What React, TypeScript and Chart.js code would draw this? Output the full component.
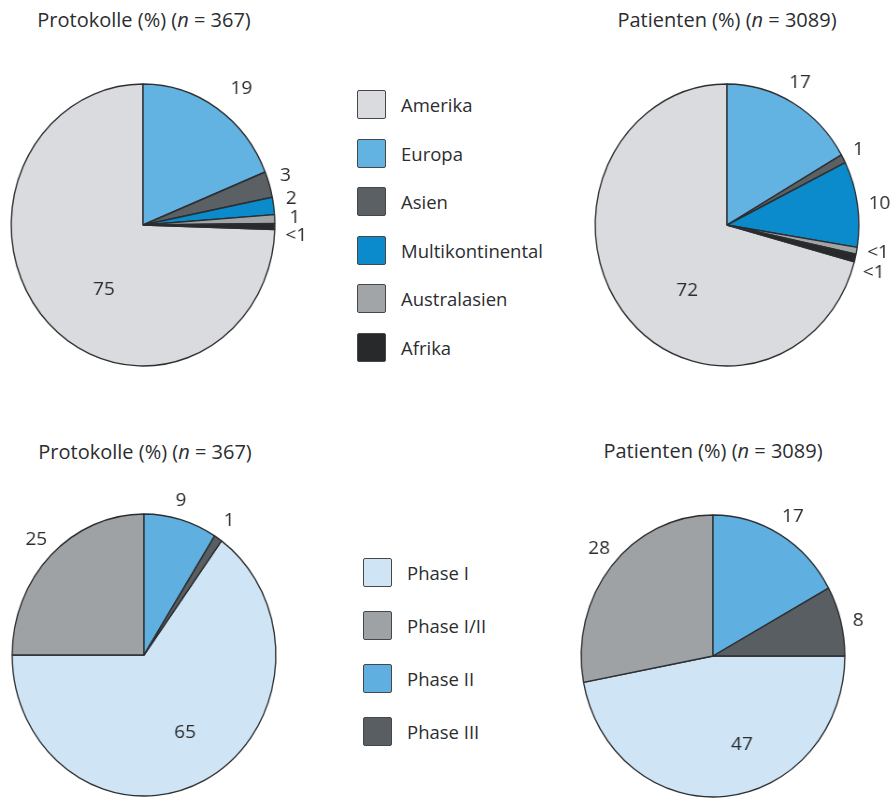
import React, { useEffect, useRef } from "react";
import { Chart, registerables } from "chart.js";

Chart.register(...registerables);

// ---- data ----
const regionLabels = ["Amerika", "Europa", "Asien", "Multikontinental", "Australasien", "Afrika"];
const regionColors = ["#dadbde", "#62b2e2", "#5b6065", "#0b8bcc", "#a2a5a8", "#27292b"];
const protokolleRegion = [75, 19, 3, 2, 1, 0.7];
const patientenRegion = [72, 17, 1, 10, 0.8, 0.9];

const phaseLabels = ["Phase I", "Phase I/II", "Phase II", "Phase III"];
const phaseColors = ["#cfe5f6", "#9fa2a5", "#5fb0e0", "#595e63"];
const protokollePhase = [65, 25, 9, 1];
const patientenPhase = [47, 28, 17, 8];

// ---- styling / placement ----
const FONT = "'Open Sans', 'Noto Sans', sans-serif";
const TEXT = "#2b2d30";
const EDGE = "#2c2e30";
const RADIUS = 141;
const SQUEEZE = 0.935; // the pies are drawn slightly narrower than tall
const CW = 360;
const CH = 330;

// [radius factor, dx, dy] for each value label
const placeProtRegion: number[][] = [[0.55, 13, 11], [1.2, 10, 4], [1.08, 6, -6], [1.12, 2, -5.5], [1.14, 1.5, -1], [1.14, 3, 9]];
const placePatRegion: number[][] = [[0.6, 23, 14], [1.15, -3, -2], [1.12, 1, -1], [1.17, 0, 3], [1.165, 0, -2], [1.145, 0, 10]];
const placeProtPhase: number[][] = [[0.62, 4, 0], [1.155, 0, 0], [1.14, -5, 0], [1.15, 0, 0]];
const placePatPhase: number[][] = [[0.64, 21, -1], [1.2, 8, 0], [1.145, 3, 0], [1.13, 1, 4]];

const valueText = (v: number) => (v < 1 ? "<1" : String(v));

const valueLabels = {
  id: "valueLabels",
  afterDatasetsDraw(chart: any, _args: any, opts: any) {
    const meta = chart.getDatasetMeta(0);
    const values: number[] = chart.data.datasets[0].data;
    const ctx = chart.ctx;
    ctx.save();
    ctx.fillStyle = TEXT;
    ctx.font = `19px ${FONT}`;
    ctx.textAlign = "center";
    ctx.textBaseline = "middle";
    meta.data.forEach((arc: any, i: number) => {
      const { x, y, startAngle, endAngle, outerRadius } = arc.getProps(
        ["x", "y", "startAngle", "endAngle", "outerRadius"],
        true
      );
      const [f, dx, dy] = opts.place[i];
      const mid = (startAngle + endAngle) / 2;
      const px = x + Math.cos(mid) * outerRadius * f + dx / SQUEEZE;
      const py = y + Math.sin(mid) * outerRadius * f + dy;
      ctx.save();
      ctx.translate(px, py);
      ctx.scale(1 / SQUEEZE, 1);
      ctx.fillText(valueText(values[i]), 0, 0);
      ctx.restore();
    });
    ctx.restore();
  },
};

type PieProps = {
  values: number[];
  labels: string[];
  colors: string[];
  topIndex: number;
  place: number[][];
  cx: number;
  cy: number;
};

function Pie({ values, labels, colors, topIndex, place, cx, cy }: PieProps) {
  const ref = useRef<HTMLCanvasElement>(null);
  useEffect(() => {
    const total = values.reduce((a, b) => a + b, 0);
    const before = values.slice(0, topIndex).reduce((a, b) => a + b, 0);
    const chart = new Chart(ref.current as HTMLCanvasElement, {
      type: "pie",
      data: {
        labels,
        datasets: [
          {
            data: values,
            backgroundColor: colors,
            borderColor: EDGE,
            borderWidth: 1.4,
          },
        ],
      },
      options: {
        responsive: false,
        animation: false,
        events: [],
        rotation: (-360 * before) / total,
        radius: RADIUS,
        plugins: {
          legend: { display: false },
          tooltip: { enabled: false },
          valueLabels: { place },
        } as any,
      },
      plugins: [valueLabels as any],
    });
    return () => chart.destroy();
  }, []);
  return (
    <canvas
      ref={ref}
      width={CW}
      height={CH}
      style={{
        position: "absolute",
        left: cx - CW / 2,
        top: cy - CH / 2,
        transform: `scaleX(${SQUEEZE})`,
        transformOrigin: "center center",
      }}
    />
  );
}

function Title({ name, n, cx, cy }: { name: string; n: number; cx: number; cy: number }) {
  return (
    <div
      style={{
        position: "absolute",
        left: cx - 150,
        top: cy - 13,
        width: 300,
        height: 26,
        lineHeight: "26px",
        textAlign: "center",
        fontSize: 20,
        fontFamily: FONT,
        color: TEXT,
        whiteSpace: "nowrap",
      }}
    >
      {name} (%) (<i>n</i> = {n})
    </div>
  );
}

function Legend({
  labels,
  colors,
  left,
  textLeft,
  top,
  step,
  size,
}: {
  labels: string[];
  colors: string[];
  left: number;
  textLeft: number;
  top: number;
  step: number;
  size: number;
}) {
  return (
    <>
      {labels.map((lab, i) => (
        <React.Fragment key={lab}>
          <div
            style={{
              position: "absolute",
              left,
              top: top + i * step - size / 2,
              width: size - 3,
              height: size - 3,
              background: colors[i],
              border: "1.5px solid #45484b",
              borderRadius: 2,
            }}
          />
          <div
            style={{
              position: "absolute",
              left: textLeft,
              top: top + i * step - 13,
              height: 26,
              lineHeight: "26px",
              fontSize: 18.5,
              fontFamily: FONT,
              color: TEXT,
              whiteSpace: "nowrap",
            }}
          >
            {lab}
          </div>
        </React.Fragment>
      ))}
    </>
  );
}

export default function App() {
  return (
    <div
      style={{
        position: "absolute",
        left: 0,
        top: 0,
        width: 890,
        height: 798,
        overflow: "hidden",
        background: "#ffffff",
      }}
    >
      <Title name="Protokolle" n={367} cx={144} cy={20} />
      <Title name="Patienten" n={3089} cx={727} cy={20} />
      <Title name="Protokolle" n={367} cx={145} cy={452} />
      <Title name="Patienten" n={3089} cx={713} cy={451} />

      <Pie values={protokolleRegion} labels={regionLabels} colors={regionColors} topIndex={1} place={placeProtRegion} cx={143} cy={225} />
      <Pie values={patientenRegion} labels={regionLabels} colors={regionColors} topIndex={1} place={placePatRegion} cx={727} cy={225} />
      <Pie values={protokollePhase} labels={phaseLabels} colors={phaseColors} topIndex={2} place={placeProtPhase} cx={144} cy={655} />
      <Pie values={patientenPhase} labels={phaseLabels} colors={phaseColors} topIndex={2} place={placePatPhase} cx={713} cy={656} />

      <Legend labels={regionLabels} colors={regionColors} left={357} textLeft={401} top={105} step={48.6} size={30} />
      <Legend labels={phaseLabels} colors={phaseColors} left={363} textLeft={407} top={573} step={53} size={30} />
    </div>
  );
}
